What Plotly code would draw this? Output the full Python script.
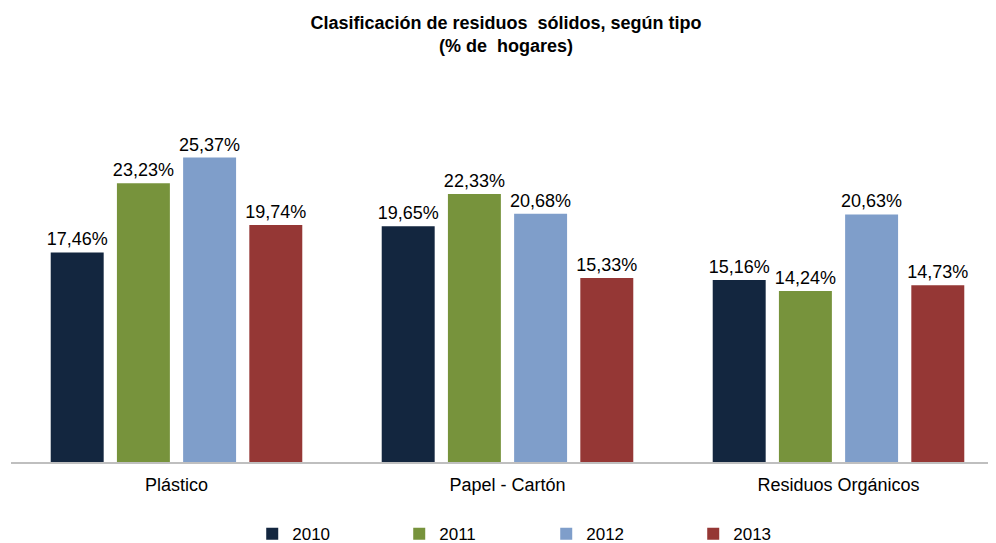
import plotly.graph_objects as go

# Data
categories = ["Plástico", "Papel - Cartón", "Residuos Orgánicos"]
years = ["2010", "2011", "2012", "2013"]
values_2010 = [17.46, 19.65, 15.16]
values_2011 = [23.23, 22.33, 14.24]
values_2012 = [25.37, 20.68, 20.63]
values_2013 = [19.74, 15.33, 14.73]

series = [values_2010, values_2011, values_2012, values_2013]
colors = ["#13263F", "#77933C", "#7F9ECA", "#953735"]

fig = go.Figure()

for year, vals, color in zip(years, series, colors):
    fig.add_trace(go.Bar(
        x=categories,
        y=vals,
        name=year,
        marker_color=color,
        marker_line_width=0,
        texttemplate="%{y:.2f}%",
        textposition="outside",
        constraintext="none",
        textfont=dict(family="Liberation Sans, Arial", size=18, color="#000000"),
        cliponaxis=False,
    ))

fig.update_layout(
    width=996,
    height=543,
    margin=dict(l=3, r=0, t=94, b=89, autoexpand=False),
    paper_bgcolor="white",
    plot_bgcolor="white",
    separators=",.",
    barmode="group",
    bargap=0.2,
    bargroupgap=0.2,
    uniformtext=dict(mode=False),
    font=dict(family="Liberation Sans, Arial", size=15, color="#000000"),
    title=dict(
        text="<b>Clasificación de residuos  sólidos, según tipo<br>(% de  hogares)</b>",
        x=0.5,
        xanchor="center",
        yref="container",
        y=0.962,
        yanchor="middle",
        font=dict(family="Liberation Sans, Arial", size=18, color="#000000"),
    ),
    legend=dict(
        orientation="h",
        x=0.539,
        xanchor="center",
        yref="container",
        y=0.031,
        yanchor="middle",
        entrywidth=102,
        font=dict(family="Liberation Sans, Arial", size=17, color="#000000"),
        itemsizing="constant",
    ),
)

fig.update_xaxes(
    showline=True,
    linecolor="#BFBFBF",
    linewidth=2,
    ticks="",
    showgrid=False,
    tickfont=dict(size=18),
    ticklabelstandoff=5,
)
fig.update_yaxes(
    range=[0, 30],
    visible=False,
    showgrid=False,
)

fig.write_html("out.html")
